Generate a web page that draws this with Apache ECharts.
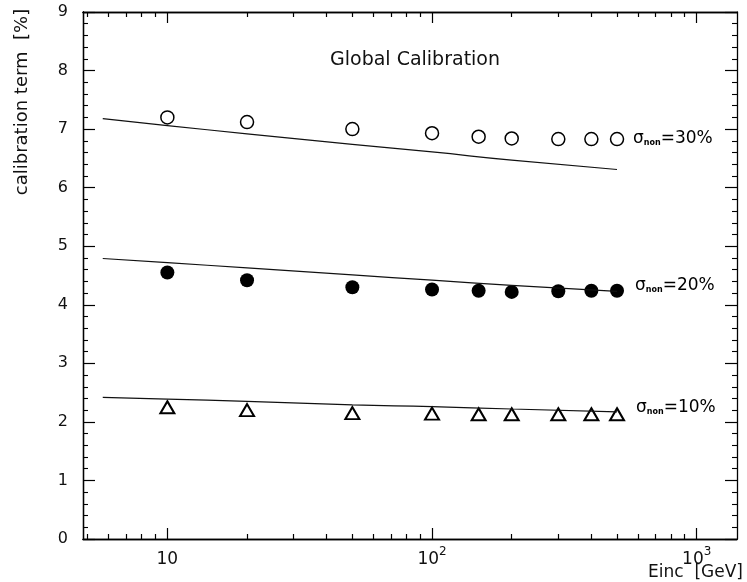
<!DOCTYPE html>
<html><head><meta charset="utf-8">
<script src="https://cdn.jsdelivr.net/npm/echarts@6/dist/echarts.min.js"></script>
<style>html,body{margin:0;padding:0;background:#fff}#c{width:747px;height:582px}</style>
</head><body><div id="c"></div>
<script>
// ---- data ----
const energies = [10, 20, 50, 100, 150, 200, 300, 400, 500];
const calib30 = [7.20, 7.12, 7.00, 6.93, 6.87, 6.84, 6.83, 6.83, 6.83];
const calib20 = [4.55, 4.42, 4.30, 4.26, 4.24, 4.22, 4.23, 4.24, 4.24];
const calib10 = [2.25, 2.20, 2.15, 2.14, 2.13, 2.13, 2.13, 2.13, 2.13];
const fitEnergies = [5.7, 10, 20, 50, 100, 200, 500];
const fit30 = [7.18, 7.06, 6.92, 6.74, 6.61, 6.47, 6.31];
const fit20 = [4.79, 4.72, 4.63, 4.51, 4.42, 4.33, 4.23];
const fit10 = [2.42, 2.39, 2.35, 2.29, 2.26, 2.22, 2.17];
const xMajorTicks = [10, 100, 1000];
const xMajorLabels = ['10', '10^2', '10^3'];
const xMinorTicks = [5, 6, 7, 8, 9, 20, 30, 40, 50, 60, 70, 80, 90, 200, 300, 400, 500, 600, 700, 800, 900];
const yTicks = [0, 1, 2, 3, 4, 5, 6, 7, 8, 9];
const seriesLabels = ['30%', '20%', '10%'];

const X_MIN = 4.8, X_MAX = 1420;
const INK = '#000';
const TXT = '#111';
const FONT = 'DejaVu Sans';

const pairs = (xs, ys) => xs.map((x, i) => [x, ys[i]]);

function xAxisDef(pos, ticks, len, labels, gridIndex) {
  return {
    type: 'log', logBase: 10, min: X_MIN, max: X_MAX, position: pos, gridIndex,
    axisLine: { show: true, onZero: false, lineStyle: { color: INK, width: 1.3 } },
    axisTick: { show: true, inside: true, length: len, customValues: ticks, lineStyle: { color: INK, width: 1.2 } },
    axisLabel: labels ? {
      show: true, customValues: ticks, margin: 7, color: TXT, fontFamily: FONT,
      formatter: v => {
        const s = xMajorLabels[xMajorTicks.indexOf(v)] || '';
        const p = s.split('^');
        return p.length > 1 ? '{n|' + p[0] + '}{s|' + p[1] + '}' : '{n|' + p[0] + '}';
      },
      rich: {
        n: { fontSize: 17, fontFamily: FONT, color: TXT, lineHeight: 22, verticalAlign: 'bottom' },
        s: { fontSize: 12, fontFamily: FONT, color: TXT, verticalAlign: 'top', lineHeight: 22 }
      }
    } : { show: false },
    splitLine: { show: false }
  };
}
function yAxisDef(pos, labels, gridIndex) {
  return {
    type: 'value', min: 0, max: 9, interval: 1, position: pos, gridIndex,
    axisLine: { show: true, lineStyle: { color: INK, width: 1.3 } },
    axisTick: { show: true, inside: true, length: 12, lineStyle: { color: INK, width: 1.2 } },
    minorTick: { show: true, splitNumber: 5, length: 5, lineStyle: { color: INK, width: 1.1 } },
    axisLabel: labels ? { show: true, margin: 15, fontSize: 16, fontFamily: FONT, color: TXT,
      formatter: v => yTicks.indexOf(v) >= 0 ? String(v) : '' } : { show: false },
    splitLine: { show: false }, minorSplitLine: { show: false }
  };
}

const grid = { left: 83, right: 10, top: 12, bottom: 43 };
const chart = echarts.init(document.getElementById('c'), null, { renderer: 'canvas' });

const lineStyle = { color: TXT, width: 1.2 };
const sigmaLabel = t => '{a|σ}{b|non}{a|=' + t + '}';
const sigmaRich = {
  a: { fontSize: 17, fontFamily: FONT, color: TXT, verticalAlign: 'bottom', lineHeight: 22 },
  b: { fontSize: 8, fontFamily: FONT, color: TXT, verticalAlign: 'bottom', lineHeight: 16, fontWeight: 'bold' }
};

chart.setOption({
  animation: false,
  backgroundColor: '#fff',
  grid: [Object.assign({}, grid), Object.assign({}, grid)],
  xAxis: [
    xAxisDef('bottom', xMajorTicks, 11, true, 0),
    xAxisDef('top', xMajorTicks, 11, false, 0),
    xAxisDef('bottom', xMinorTicks, 5, false, 1),
    xAxisDef('top', xMinorTicks, 5, false, 1)
  ],
  yAxis: [
    yAxisDef('left', true, 0),
    yAxisDef('right', false, 0),
    Object.assign(yAxisDef('left', false, 1), { axisTick: { show: false }, minorTick: { show: false } })
  ],
  series: [
    { type: 'line', data: pairs(fitEnergies, fit30), smooth: true, showSymbol: false, lineStyle, silent: true },
    { type: 'line', data: pairs(fitEnergies, fit20), smooth: true, showSymbol: false, lineStyle, silent: true },
    { type: 'line', data: pairs(fitEnergies, fit10), smooth: true, showSymbol: false, lineStyle, silent: true },
    { type: 'scatter', data: pairs(energies, calib30), symbol: 'circle', symbolSize: 13,
      itemStyle: { color: '#fff', borderColor: INK, borderWidth: 1.5, opacity: 1 } },
    { type: 'scatter', data: pairs(energies, calib20), symbol: 'circle', symbolSize: 14,
      itemStyle: { color: INK, opacity: 1 } },
    { type: 'scatter', data: pairs(energies, calib10), symbol: 'triangle', symbolSize: [14, 12],
      itemStyle: { color: '#fff', borderColor: INK, borderWidth: 2, opacity: 1 } }
  ],
  graphic: [
    { type: 'text', left: 330, top: 51, style: { text: 'Global Calibration', fontSize: 19, fontFamily: FONT, fill: TXT } },
    { type: 'text', x: 22, y: 102, rotation: Math.PI / 2,
      style: { text: 'calibration term  [%]', fontSize: 18, fontFamily: FONT, fill: TXT, align: 'center', verticalAlign: 'middle' } },
    { type: 'text', right: 4, top: 564, style: { text: 'Einc  [GeV]', fontSize: 17, fontFamily: FONT, fill: TXT } },
    { type: 'text', left: 633, top: 130, style: { text: sigmaLabel(seriesLabels[0]), rich: sigmaRich } },
    { type: 'text', left: 635, top: 277, style: { text: sigmaLabel(seriesLabels[1]), rich: sigmaRich } },
    { type: 'text', left: 636, top: 399, style: { text: sigmaLabel(seriesLabels[2]), rich: sigmaRich } }
  ]
});
</script></body></html>
